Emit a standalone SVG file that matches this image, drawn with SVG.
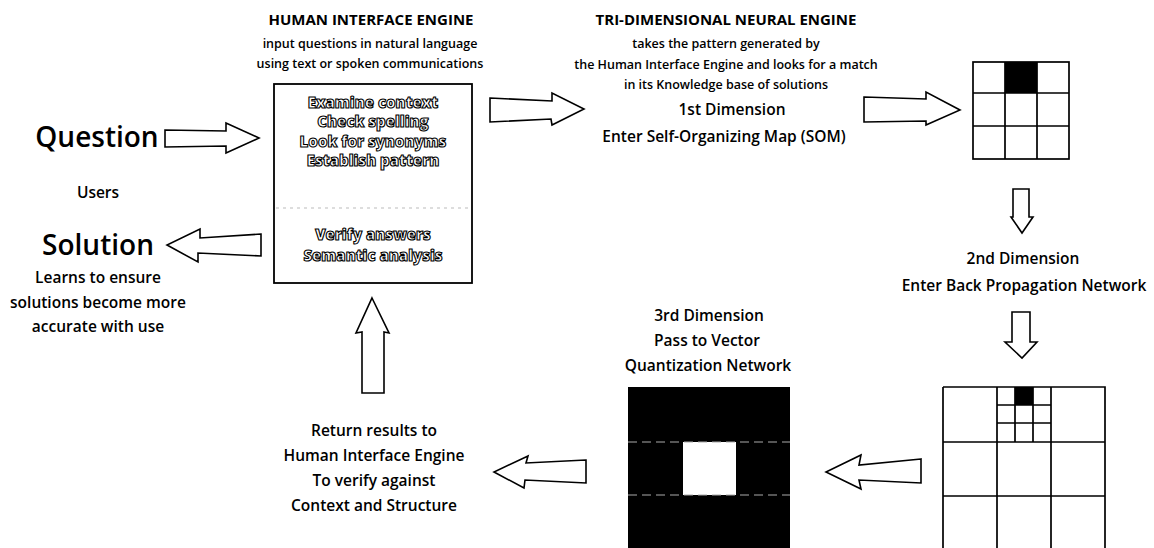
<svg xmlns="http://www.w3.org/2000/svg" width="1154" height="548" viewBox="0 0 1154 548">
<style>
.t{font-family:"Open Sans","Liberation Sans",sans-serif;font-weight:600;fill:#000;text-anchor:middle}
.hdr{font-weight:700;font-size:15px}
.sub{font-size:12.5px}
.lbl{font-size:15.5px}
.big{font-size:28px;font-weight:600}
.out{fill:#fff;stroke:#000;stroke-width:1.1px;font-weight:800;font-size:15px}
.arr{fill:#fff;stroke:#000;stroke-width:1.6;stroke-linejoin:miter}
.box{fill:#fff;stroke:#000;stroke-width:1.8}
.grid{fill:none;stroke:#000;stroke-width:1.7}
.blk{fill:#000}
.sep{stroke:#bbb;stroke-width:1;stroke-dasharray:3 4}
</style>
<rect width="1154" height="548" fill="#fff"/>

<g id="users">
<text class="t big" x="97" y="147">Question</text>
<text class="t lbl" x="98" y="198">Users</text>
<text class="t big" x="98" y="255">Solution</text>
<text class="t lbl" x="98" y="283">Learns to ensure</text>
<text class="t lbl" x="98" y="308">solutions become more</text>
<text class="t lbl" x="98" y="332">accurate with use</text>
</g>

<g id="human-interface-engine">
<text class="t hdr" x="371" y="25">HUMAN INTERFACE ENGINE</text>
<text class="t sub" x="370" y="48">input questions in natural language</text>
<text class="t sub" x="370" y="68">using text or spoken communications</text>
<rect class="box" x="274" y="84" width="198" height="199"/>
<line class="sep" x1="276" y1="208" x2="470" y2="208"/>
<text class="t out" x="373" y="108">Examine context</text>
<text class="t out" x="373" y="127">Check spelling</text>
<text class="t out" x="373" y="147">Look for synonyms</text>
<text class="t out" x="373" y="166">Establish pattern</text>
<text class="t out" x="373" y="240">Verify answers</text>
<text class="t out" x="373" y="261">Semantic analysis</text>
</g>

<g id="tri-dimensional-neural-engine">
<text class="t hdr" x="726" y="25">TRI-DIMENSIONAL NEURAL ENGINE</text>
<text class="t sub" x="726" y="48">takes the pattern generated by</text>
<text class="t sub" x="726" y="69">the Human Interface Engine and looks for a match</text>
<text class="t sub" x="726" y="89">in its Knowledge base of solutions</text>
<text class="t lbl" x="732" y="115">1st Dimension</text>
<text class="t lbl" x="724" y="142">Enter Self-Organizing Map (SOM)</text>
</g>

<g id="som-grid">
<rect class="blk" x="1005" y="62" width="32" height="31"/>
<rect class="grid" x="973" y="62" width="96" height="97"/>
<path class="grid" d="M1005 62V159M1037 62V159M973 93H1069M973 126H1069"/>
</g>

<g id="dimension-2">
<text class="t lbl" x="1023" y="264">2nd Dimension</text>
<text class="t lbl" x="1024" y="291">Enter Back Propagation Network</text>
</g>

<g id="bp-grid">
<rect class="blk" x="1015" y="387" width="18" height="18"/>
<path class="grid" d="M943 387H1105V550M943 387V550M997 387V550M1051 387V550M943 442H1105M943 496H1105M1015 387V442M1033 387V442M997 405H1051M997 423H1051"/>
</g>

<g id="dimension-3">
<text class="t lbl" x="709" y="321">3rd Dimension</text>
<text class="t lbl" x="707" y="346">Pass to Vector</text>
<text class="t lbl" x="708" y="371">Quantization Network</text>
</g>

<g id="vq-grid">
<rect class="blk" x="628" y="387" width="162" height="163"/>
<rect x="683" y="442" width="53" height="53" fill="#fff"/>
<path d="M628 442H790M628 495H790" stroke="#aaa" stroke-width="1" stroke-dasharray="9 5"/>
</g>

<g id="return-results">
<text class="t lbl" x="374" y="436">Return results to</text>
<text class="t lbl" x="374" y="461">Human Interface Engine</text>
<text class="t lbl" x="374" y="486">To verify against</text>
<text class="t lbl" x="374" y="511">Context and Structure</text>
</g>

<g id="connectors">
<polygon class="arr" points="165,130 226,131 226,123 259,138 226,153 226,146 165,147"/>
<polygon class="arr" points="261,234 200,238 200,229 167,245 198,262 198,253 261,256"/>
<polygon class="arr" points="490,98 552,101 552,93 584,109 552,125 551,119 490,122"/>
<polygon class="arr" points="864,97 926,99 926,92 960,110 926,125 926,121 864,122"/>
<polygon class="arr" points="1013,189 1029,189 1029,217 1033,217 1022,233 1011,217 1013,217"/>
<polygon class="arr" points="1012,312 1030,312 1030,342 1037,342 1022,358 1005,342 1012,342"/>
<polygon class="arr" points="921,459 859,465 861,455 826,472 861,489 859,480 921,483"/>
<polygon class="arr" points="586,460 526,463 528,456 494,472 524,488 525,480 586,483"/>
<polygon class="arr" points="372,298 389,333 384,332 384,393 362,393 362,332 356,333"/>
</g>
</svg>
